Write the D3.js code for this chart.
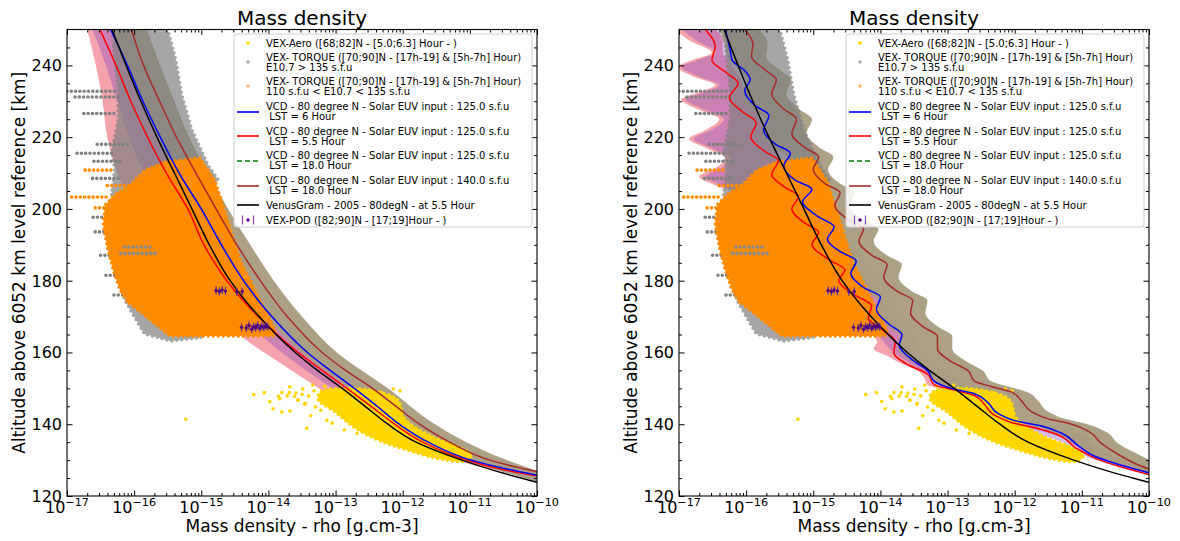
<!DOCTYPE html>
<html><head><meta charset="utf-8">
<script src="https://cdn.jsdelivr.net/npm/d3@7/dist/d3.min.js"></script>
<style>
body{margin:0;background:#fff;}
svg text{font-family:"DejaVu Sans",sans-serif;fill:#000;}
</style></head><body>
<svg id="chart" width="1180" height="541"></svg>
<script>
// ---------------- DATA (log10 rho [g/cm3], altitude [km]) ----------------
const xTickExponents = [-17,-16,-15,-14,-13,-12,-11,-10];
const yTickValues = [120,140,160,180,200,220,240];
const titleText = "Mass density";
const xLabelText = "Mass density - rho [g.cm-3]";
const yLabelText = "Altitude above 6052 km level reference [km]";
const legendLabels = [
  ["VEX-Aero ([68;82]N - [5.0;6.3] Hour - )"],
  ["VEX- TORQUE ([70;90]N - [17h-19] & [5h-7h] Hour)","E10.7 > 135 s.f.u"],
  ["VEX- TORQUE ([70;90]N - [17h-19] & [5h-7h] Hour)","110 s.f.u < E10.7 < 135 s.f.u"],
  ["VCD - 80 degree N - Solar EUV input : 125.0 s.f.u"," LST = 6 Hour"],
  ["VCD - 80 degree N - Solar EUV input : 125.0 s.f.u"," LST = 5.5 Hour"],
  ["VCD - 80 degree N - Solar EUV input : 125.0 s.f.u"," LST = 18.0 Hour"],
  ["VCD - 80 degree N - Solar EUV input : 140.0 s.f.u"," LST = 18.0 Hour"],
  ["VenusGram - 2005 - 80degN - at 5.5 Hour"],
  ["VEX-POD ([82;90]N - [17;19]Hour - )"]
];

// Observations (same in both panels)
const grayCloud = [[-16.33,250],[-15.50,250],[-15.38,241.5],[-15.29,231.7],[-15.14,222.0],[-14.90,212.2],[-14.75,208.1],[-14.95,202.5],[-15.24,195.5],[-15.54,185.8],[-15.62,174.6],[-15.47,164.9],[-15.0,164.2],[-15.45,163.2],[-15.85,165.2],[-16.14,174.6],[-16.29,185.8],[-16.39,192.7],[-16.36,198.3],[-16.33,205.3],[-16.29,210.8],[-16.33,216.4],[-16.24,224.8],[-16.24,233.1],[-16.29,241.5]];
const grayStreaks = [[-17.0,-16.25,232.8],[-16.88,-16.2,231.2],[-16.75,-16.25,226.6],[-16.85,-16.3,215.5],[-16.55,-16.1,218.0],[-16.6,-16.2,213.3],[-16.62,-16.2,208.5],[-16.61,-16.14,197.7],[-16.58,-16.21,193.6],[-16.5,-16.1,187.1],[-16.42,-16.0,181.5],[-16.3,-15.85,176.0]];
const grayStreaksOver = [[-16.2,-15.65,187.6],[-16.15,-15.72,189.4]];
const orangeCloud = [[-15.54,213.1],[-15.02,214.2],[-14.80,208],[-14.62,197.7],[-14.42,185.7],[-14.05,171.8],[-13.90,166.3],[-13.93,164.6],[-15.47,164.6],[-15.76,169],[-16.09,174],[-16.21,177.4],[-16.31,183],[-16.39,188.5],[-16.46,195.5],[-16.43,201.1],[-16.29,203.9],[-16.06,206.7],[-15.84,210.8]];
const orangeStreaks = [[-16.93,-16.36,203.3],[-16.73,-16.29,210.8],[-16.58,-15.91,200.3],[-16.31,-15.72,183.8],[-16.24,-15.61,181.0],[-16.09,-15.47,174.1],[-16.4,-16.0,206.5]];
const yellowCloud = [[-13.23,149.0],[-12.79,150.1],[-12.34,149.0],[-12.07,146.8],[-11.97,141.7],[-11.60,137.0],[-11.15,133.6],[-10.97,131.4],[-11.07,129.7],[-11.45,130.3],[-11.89,132.5],[-12.34,135.3],[-12.71,138.9],[-13.01,143.4],[-13.26,146.8]];
const yellowPoints = [[-15.23,141.4],[-14.22,148.3],[-14.06,148.8],[-13.98,146.3],[-13.85,147.8],[-13.80,148.8],[-13.93,144.3],[-13.80,143.4],[-13.69,148.8],[-13.61,147.8],[-13.56,146.8],[-13.50,148.3],[-13.45,145.8],[-13.37,142.4],[-13.43,138.9],[-13.32,149.3],[-13.22,143.9],[-13.05,140.3],[-12.87,138.4],[-12.68,137.4],[-12.52,137.9],[-12.31,148.8],[-12.14,149.8],[-12.04,149.3],[-12.25,145.8],[-12.12,143.4],[-12.41,147.3],
  [-13.68,150.4],[-13.59,148.7],[-13.49,149.8],[-13.40,147.9],[-13.34,150.9],[-13.56,146.7],[-13.46,145.6],[-13.16,150.6],[-13.04,149.3],[-12.91,150.9],[-13.72,147.9],[-13.30,144.8],[-13.13,141.1],[-13.68,143.7],[-13.83,147.1]];
const podPoints = [[-14.78,177.3],[-14.73,177.0],[-14.69,177.4],[-14.64,177.1],[-14.47,176.9],[-14.39,177.0],
  [-14.40,167.0],[-14.33,166.8],[-14.29,167.5],[-14.25,166.5],[-14.22,167.2],[-14.19,166.9],[-14.16,167.6],[-14.13,166.7],[-14.10,167.3],[-14.07,167.0],[-14.04,167.4],[-14.01,167.1]];
const podError = 1.1;

// VenusGram (same both panels)
const venusGram = [[-16.33,250],[-16.12,240],[-15.90,230],[-15.66,220],[-15.40,210],[-15.14,200],[-14.88,190],[-14.57,180],[-14.14,170],[-13.60,160],[-13.27,155],[-12.90,150],[-12.56,145],[-12.22,140],[-11.80,135],[-11.12,130],[-10.62,127],[-10.0,123.8]];

// Left panel VCD models
const leftBlue = [[-16.35,250],[-16.10,240],[-15.87,230],[-15.61,220],[-15.33,210],[-15.00,200],[-14.70,190],[-14.37,180],[-13.95,170],[-13.42,160],[-13.08,155],[-12.72,150],[-12.38,145],[-12.05,140],[-11.62,135],[-10.98,130],[-10.45,127.5],[-10.0,125.8]];
const leftRed = [[-16.51,250],[-16.27,240],[-16.05,230],[-15.80,220],[-15.52,210],[-15.20,200],[-14.96,190],[-14.62,180],[-14.15,170],[-13.56,160],[-13.20,155],[-12.83,150],[-12.47,145],[-12.12,140],[-11.70,135],[-11.05,130],[-10.50,127.3],[-10.0,125.6]];
const leftBrown = [[-16.04,250],[-15.86,240],[-15.62,230],[-15.37,220],[-15.08,210],[-14.78,200],[-14.47,190],[-14.12,180],[-13.72,170],[-13.20,160],[-12.85,155],[-12.45,150],[-12.10,145],[-11.75,140],[-11.30,135],[-10.70,130],[-10.25,127.8],[-10.0,126.8]];
// bands: [alt, low, high]
const leftTanBand = [[250,-16.36,-15.81],[240,-16.12,-15.61],[230,-15.90,-15.40],[220,-15.66,-15.18],[210,-15.40,-14.90],[200,-15.10,-14.60],[190,-14.80,-14.27],[180,-14.47,-13.92],[170,-14.05,-13.50],[160,-13.50,-12.98],[150,-12.80,-12.22],[140,-12.12,-11.52],[135,-11.70,-11.05],[130,-11.05,-10.45],[127,-10.55,-10.0],[124,-10.0,-9.6]];
const leftPinkBand = [[250,-16.70,-16.30],[240,-16.57,-16.10],[230,-16.47,-15.88],[220,-16.40,-15.62],[210,-16.25,-15.35],[200,-16.00,-15.05],[190,-15.65,-14.75],[180,-15.25,-14.42],[170,-14.75,-14.0],[163,-14.30,-13.65],[158,-13.90,-13.35],[150,-13.25,-12.80],[140,-12.45,-12.10],[132,-11.45,-11.25],[128,-10.80,-10.50],[125.5,-10.0,-9.8]];
const leftBlueBand = [[250,-16.62,-16.05],[240,-16.42,-15.85],[230,-16.25,-15.62],[220,-16.08,-15.38],[210,-15.85,-15.10],[200,-15.55,-14.80],[190,-15.20,-14.50],[180,-14.85,-14.15],[170,-14.40,-13.75],[160,-13.80,-13.25],[150,-13.05,-12.55],[140,-12.30,-11.85],[132,-11.35,-11.0],[128,-10.65,-10.25],[126,-10.0,-9.8]];

// Right panel VCD models (wavy)
const rightBlue = [[-16.31,250],[-16.24,244.5],[-16.21,241.5],[-16.02,238.5],[-15.94,236],[-16.02,233],[-15.88,229],[-15.66,226],[-15.74,222],[-15.56,218],[-15.34,215.5],[-15.44,212],[-15.27,208],[-15.02,205.5],[-15.16,202],[-14.94,198],[-14.69,195],[-14.79,191.5],[-14.59,188],[-14.36,185.5],[-14.44,182],[-14.24,178],[-14.00,175.5],[-14.06,172],[-13.88,168],[-13.68,165],[-13.72,162],[-13.53,158],[-13.30,155],[-13.20,152],[-12.95,150],[-12.60,148.5],[-12.40,146],[-12.25,143],[-12.00,141],[-11.60,139.5],[-11.30,137.5],[-11.05,134],[-10.80,131],[-10.40,128.5],[-10.0,126.5]];
const rightRed = [[-16.61,250],[-16.46,245.3],[-16.51,241.5],[-16.30,238],[-16.12,235],[-16.25,231],[-16.05,227],[-15.85,224],[-15.93,220],[-15.72,216],[-15.52,213.5],[-15.62,209.5],[-15.42,206],[-15.22,203.5],[-15.32,200],[-15.12,196],[-14.92,193.5],[-15.02,190],[-14.78,186],[-14.53,183],[-14.62,180],[-14.38,176],[-14.13,173],[-14.18,169.5],[-13.95,166],[-13.78,163],[-13.80,160],[-13.58,156.5],[-13.30,154],[-13.20,151],[-12.90,149.5],[-12.60,148],[-12.45,145.5],[-12.30,142.5],[-12.05,140.5],[-11.70,139],[-11.35,137],[-11.10,133.5],[-10.80,130.5],[-10.40,128],[-10.0,126]];
const rightBrown = [[-16.02,250],[-15.90,246],[-15.92,242.5],[-15.70,238.5],[-15.55,236],[-15.62,232],[-15.45,228],[-15.25,225],[-15.32,221],[-15.12,217],[-14.92,214.5],[-15.00,211],[-14.82,207],[-14.60,204.5],[-14.68,201],[-14.48,197],[-14.25,194.5],[-14.32,191],[-14.12,187],[-13.90,184.5],[-13.95,181],[-13.75,177],[-13.52,174.5],[-13.55,171],[-13.35,167],[-13.15,164.5],[-13.15,161],[-12.95,157.5],[-12.70,155],[-12.60,152],[-12.35,150.5],[-12.05,149],[-11.90,146.5],[-11.75,143.5],[-11.50,141.5],[-11.15,140],[-10.90,138],[-10.70,134.5],[-10.45,131.5],[-10.20,129],[-10.0,127.5]];
const rightTanBand = [[250,-16.40,-15.80],[246,-16.32,-15.68],[242.5,-16.28,-15.70],[238.5,-16.08,-15.48],[236,-16.0,-15.33],[232,-16.06,-15.40],[228,-15.93,-15.22],[225,-15.72,-15.02],[221,-15.78,-15.10],[217,-15.58,-14.90],[214.5,-15.40,-14.70],[211,-15.48,-14.78],[207,-15.30,-14.60],[204.5,-15.08,-14.38],[201,-15.18,-14.46],[197,-14.94,-14.26],[194.5,-14.76,-14.03],[191,-14.84,-14.10],[187,-14.58,-13.90],[184.5,-14.41,-13.68],[181,-14.48,-13.73],[177,-14.21,-13.53],[174.5,-14.04,-13.30],[171,-14.08,-13.33],[167,-13.86,-13.13],[164.5,-13.70,-12.93],[161,-13.73,-12.93],[157.5,-13.53,-12.72],[155,-13.32,-12.48],[152,-13.22,-12.35],[150.5,-13.0,-12.10],[149,-12.75,-11.82],[146.5,-12.45,-11.65],[143.5,-12.28,-11.50],[141.5,-12.05,-11.25],[140,-11.80,-10.92],[138,-11.45,-10.65],[134.5,-11.10,-10.45],[131.5,-10.85,-10.15],[129,-10.45,-9.9],[127.5,-10.2,-9.8],[125,-9.9,-9.6]];
const rightPinkBand = [[250,-17.05,-16.45],[247,-16.85,-16.35],[243.5,-16.51,-16.35],[241.5,-16.8,-16.25],[239.5,-17.02,-16.2],[237,-16.8,-16.1],[234.5,-16.46,-16.05],[232.5,-16.7,-16.0],[230.5,-16.97,-15.92],[228,-16.75,-15.85],[225,-16.40,-15.8],[222,-16.60,-15.72],[219.5,-16.85,-15.62],[217,-16.60,-15.55],[214,-16.30,-15.48],[211.5,-16.45,-15.4],[209,-16.70,-15.3],[206.5,-16.45,-15.2],[203.5,-16.10,-15.12],[200,-16.2,-15.0],[195,-15.9,-14.8],[190,-15.6,-14.6],[185,-15.3,-14.4],[180,-15.0,-14.2],[175,-14.75,-14.0],[170,-14.5,-13.85],[166,-14.2,-13.7],[163,-14.05,-13.6],[161,-14.1,-13.55],[159,-13.9,-13.5],[157,-13.7,-13.4],[155,-13.45,-13.25],[153,-13.35,-13.05],[151,-13.30,-12.85],[149.5,-13.05,-12.6],[147,-12.7,-12.35],[144,-12.45,-12.2],[141,-12.20,-11.9],[139,-11.80,-11.4],[137,-11.40,-11.0],[134,-11.10,-10.8],[131,-10.85,-10.5],[128.5,-10.40,-10.1],[126.5,-10.0,-9.8]];
const rightBlueBand = [[250,-16.95,-16.2],[247,-16.75,-16.1],[243.5,-16.45,-16.05],[241.5,-16.72,-16.0],[239.5,-16.96,-15.95],[237,-16.72,-15.9],[234.5,-16.40,-15.85],[232.5,-16.62,-15.8],[230.5,-16.9,-15.72],[228,-16.66,-15.65],[225,-16.33,-15.58],[222,-16.52,-15.5],[219.5,-16.78,-15.4],[217,-16.52,-15.33],[214,-16.22,-15.25],[211.5,-16.36,-15.15],[209,-16.6,-15.05],[206.5,-16.35,-14.97],[203.5,-16.02,-14.9],[200,-16.0,-14.8],[190,-15.4,-14.4],[180,-14.85,-14.0],[170,-14.35,-13.65],[165,-14.05,-13.5],[160,-13.8,-13.35],[155,-13.4,-13.0],[150,-13.0,-12.5],[145,-12.5,-12.1],[140,-12.1,-11.6],[135,-11.3,-10.9],[130,-10.8,-10.4],[127,-10.2,-9.9]];

// ---------------- DRAWING ----------------
const svg = d3.select("#chart");
const plotTop = 29.5, plotBottom = 496;
const panels = [
  {left:67, right:537, blue:leftBlue, red:leftRed, brown:leftBrown, tan:leftTanBand, pink:leftPinkBand, bband:leftBlueBand, legendX:234},
  {left:679, right:1149, blue:rightBlue, red:rightRed, brown:rightBrown, tan:rightTanBand, pink:rightPinkBand, bband:rightBlueBand, legendX:846}
];
const defs = svg.append("defs");

panels.forEach((p, pi) => {
  const x = d3.scaleLog().domain([1e-17, 1e-10]).range([p.left, p.right]);
  const y = d3.scaleLinear().domain([120, 250]).range([plotBottom, plotTop]);
  const X = v => x(Math.pow(10, v));
  const g = svg.append("g");
  defs.append("clipPath").attr("id", "clip" + pi).append("rect")
    .attr("x", p.left).attr("y", plotTop).attr("width", p.right - p.left).attr("height", plotBottom - plotTop);
  const plot = g.append("g").attr("clip-path", `url(#clip${pi})`);

  const band = d3.area().curve(d3.curveMonotoneY).y(d => y(d[0])).x0(d => X(d[1])).x1(d => X(d[2]));
  plot.append("path").datum(p.pink).attr("d", band).attr("fill", "rgb(245,163,172)");
  plot.append("path").datum(p.bband).attr("d", band).attr("fill", "rgb(120,60,200)").attr("opacity", 0.33);
  plot.append("path").datum(p.tan).attr("d", band).attr("fill", "rgb(168,156,128)").attr("opacity", 0.95);

  const poly = d3.line().curve(d3.curveLinearClosed).x(d => X(d[0])).y(d => y(d[1]));
  const streaks = (data, color, cls) => plot.selectAll("." + cls).data(data).join("line").attr("class", cls)
    .attr("x1", d => X(d[0])).attr("x2", d => X(d[1])).attr("y1", d => y(d[2])).attr("y2", d => y(d[2]))
    .attr("stroke", color).attr("stroke-width", 3.6).attr("stroke-linecap", "round").attr("stroke-dasharray", "0 4.3");
  // gray observations
  plot.append("path").datum(grayCloud).attr("d", poly).attr("fill", "#808080").attr("opacity", 0.7)
    .attr("stroke", "#808080").attr("stroke-width", 3.5).attr("stroke-linecap", "round").attr("stroke-dasharray", "0 5");
  streaks(grayStreaks, "#808080", "gs");
  // orange observations
  plot.append("path").datum(orangeCloud).attr("d", poly).attr("fill", "#ff8c00")
    .attr("stroke", "#ff8c00").attr("stroke-width", 3.5).attr("stroke-linecap", "round").attr("stroke-dasharray", "0 5");
  streaks(orangeStreaks, "#ff8c00", "os");
  streaks(grayStreaksOver, "#8a8a8a", "go");
  // yellow observations
  plot.append("path").datum(yellowCloud).attr("d", d3.line().curve(d3.curveCatmullRomClosed).x(d => X(d[0])).y(d => y(d[1])))
    .attr("fill", "#ffd700").attr("stroke", "#ffd700").attr("stroke-width", 3).attr("stroke-linecap", "round").attr("stroke-dasharray", "0 5");
  plot.selectAll(".yp").data(yellowPoints).join("circle")
    .attr("cx", d => X(d[0])).attr("cy", d => y(d[1])).attr("r", 1.8).attr("fill", "#ffd700");

  // model lines
  const line = d3.line().curve(d3.curveMonotoneY).x(d => X(d[0])).y(d => y(d[1]));
  [[p.brown, "#a52a2a"], [p.red, "#ff0000"], [p.blue, "#0000ff"], [venusGram, "#000000"]].forEach(([data, c]) => {
    plot.append("path").datum(data).attr("d", line).attr("fill", "none").attr("stroke", c).attr("stroke-width", 1.5);
  });

  // VEX-POD error bars
  const pod = plot.selectAll(".pod").data(podPoints).join("g");
  pod.append("line").attr("x1", d => X(d[0])).attr("x2", d => X(d[0]))
    .attr("y1", d => y(d[1] - podError)).attr("y2", d => y(d[1] + podError)).attr("stroke", "#5a2d9c").attr("stroke-width", 1.2);
  pod.append("circle").attr("cx", d => X(d[0])).attr("cy", d => y(d[1])).attr("r", 1.7).attr("fill", "#4b0082");

  // axes
  const majors = xTickExponents.map(e => Math.pow(10, e));
  const minors = [];
  xTickExponents.slice(0, -1).forEach(e => { for (let k = 2; k <= 9; k++) minors.push(k * Math.pow(10, e)); });
  const yMinors = d3.range(125, 250, 5).filter(v => v % 20 !== 0);
  const mk = (axis, tx, ty, vals, size) => g.append("g").attr("transform", `translate(${tx},${ty})`)
    .call(axis.tickValues(vals).tickSize(-size).tickFormat("")).call(s => s.select(".domain").remove())
    .call(s => s.selectAll("line").attr("stroke", "#000").attr("stroke-width", 1));
  mk(d3.axisBottom(x), 0, plotBottom, majors, 5.5);
  mk(d3.axisBottom(x), 0, plotBottom, minors, 3);
  mk(d3.axisTop(x), 0, plotTop, majors, 5.5);
  mk(d3.axisTop(x), 0, plotTop, minors, 3);
  mk(d3.axisLeft(y), p.left, 0, yTickValues, 5.5);
  mk(d3.axisLeft(y), p.left, 0, yMinors, 3);
  mk(d3.axisRight(y), p.right, 0, yTickValues, 5.5);
  mk(d3.axisRight(y), p.right, 0, yMinors, 3);
  g.append("rect").attr("x", p.left).attr("y", plotTop).attr("width", p.right - p.left).attr("height", plotBottom - plotTop)
    .attr("fill", "none").attr("stroke", "#000").attr("stroke-width", 1.1);

  // tick labels
  const xl = g.selectAll(".xl").data(xTickExponents).join("text")
    .attr("x", e => x(Math.pow(10, e))).attr("y", 513).attr("text-anchor", "middle").attr("font-size", 16);
  xl.append("tspan").text("10");
  xl.append("tspan").attr("dy", -7).attr("font-size", 11.2).text(e => "\u2212" + Math.abs(e));
  g.selectAll(".yl").data(yTickValues).join("text")
    .attr("x", p.left - 5).attr("y", v => y(v) + 6).attr("text-anchor", "end").attr("font-size", 16).text(v => v);

  // titles
  g.append("text").attr("x", (p.left + p.right) / 2).attr("y", 25).attr("text-anchor", "middle").attr("font-size", 20).text(titleText);
  g.append("text").attr("x", (p.left + p.right) / 2).attr("y", 532).attr("text-anchor", "middle").attr("font-size", 17).text(xLabelText);
  g.append("text").attr("transform", `translate(${p.left - 42.5},${(plotTop + plotBottom) / 2}) rotate(-90)`)
    .attr("text-anchor", "middle").attr("font-size", 17).text(yLabelText);

  // legend
  const lg = g.append("g");
  const lx = p.legendX;
  lg.append("rect").attr("x", lx).attr("y", 34).attr("width", 298).attr("height", 193).attr("rx", 3)
    .attr("fill", "#fff").attr("fill-opacity", 0.85).attr("stroke", "#d0d0d0").attr("stroke-width", 1);
  const rowTop = [43, 57, 81, 106, 131, 155, 180, 205, 220];
  const handleY = [43, 62, 86, 112, 136, 161, 186, 205, 220];
  legendLabels.forEach((lines, i) => {
    lines.forEach((t, j) => {
      lg.append("text").attr("x", lx + 32).attr("y", rowTop[i] + j * 10.3 + 3.7).attr("font-size", 10)
        .attr("xml:space", "preserve").text(t);
    });
    const hy = handleY[i], hx0 = lx + 3, hx1 = lx + 25, hc = lx + 14;
    if (i === 0) lg.append("circle").attr("cx", hc).attr("cy", hy).attr("r", 1.8).attr("fill", "#ffd700");
    if (i === 1) lg.append("circle").attr("cx", hc).attr("cy", hy).attr("r", 1.8).attr("fill", "#b0b0b0");
    if (i === 2) lg.append("circle").attr("cx", hc).attr("cy", hy).attr("r", 1.8).attr("fill", "#fdb36a");
    const lineCol = {3: "#0000ff", 4: "#ff0000", 5: "#008000", 6: "#a52a2a", 7: "#000000"}[i];
    if (lineCol) lg.append("line").attr("x1", hx0).attr("x2", hx1).attr("y1", hy).attr("y2", hy)
      .attr("stroke", lineCol).attr("stroke-width", 1.6).attr("stroke-dasharray", i === 5 ? "5 3" : null);
    if (i === 8) {
      [hc - 5.5, hc + 5.5].forEach(bx => lg.append("line").attr("x1", bx).attr("x2", bx).attr("y1", hy - 4.5).attr("y2", hy + 4.5)
        .attr("stroke", "#7a4cc0").attr("stroke-width", 1.2));
      lg.append("circle").attr("cx", hc).attr("cy", hy).attr("r", 1.7).attr("fill", "#4b0082");
    }
  });
});
</script>
</body></html>
